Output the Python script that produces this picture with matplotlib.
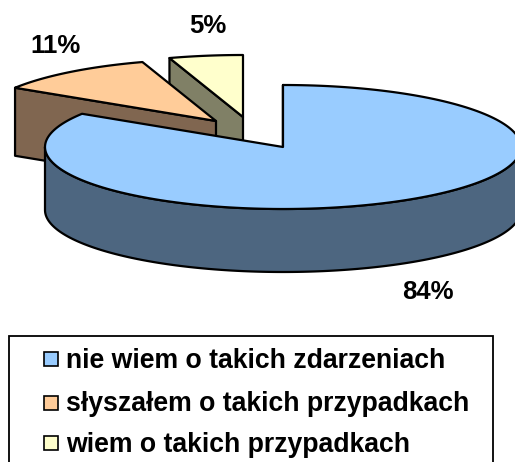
import numpy as np
import matplotlib
matplotlib.use("Agg")
import matplotlib.pyplot as plt
from matplotlib.patches import Polygon, Rectangle

plt.rcParams['font.family'] = ['Liberation Sans', 'DejaVu Sans']

# data
categories = ["nie wiem o takich zdarzeniach", "słyszałem o takich przypadkach", "wiem o takich przypadkach"]
values = [84, 11, 5]
labels = ["84%", "11%", "5%"]

# slice look
top_colors = ["#99CCFF", "#FFCC99", "#FFFFCC"]
side_colors = ["#4D6680", "#806650", "#808066"]
apex_x = [283, 216, 243]
apex_y = [147, 121, 117]
depths = [63, 68, 65]
label_pos = [(428, 299), (55, 53), (208, 33)]
RX, RY = 238, 62
EDGE = 1.6

fig = plt.figure(figsize=(5.15, 4.62), dpi=100)
ax = fig.add_axes([0, 0, 1, 1])
ax.set_xlim(0, 515)
ax.set_ylim(462, 0)
ax.axis("off")


def rim(cx, cy, a0, a1):
    # angles clockwise from 12 o'clock, like the office pie
    t = np.radians(np.linspace(a0, a1, 200))
    return cx + RX * np.sin(t), cy - RY * np.cos(t)


edges = np.cumsum([0] + values) * 3.6
slices = []
for i in range(len(values)):
    slices.append((i, edges[i], edges[i + 1]))

# back slices first so the big one sits in front
for i, a0, a1 in reversed(slices):
    cx, cy, d = apex_x[i], apex_y[i], depths[i]
    xs, ys = rim(cx, cy, a0, a1)

    # cut face on the far end of the slice
    px, py = xs[0], ys[0]
    ax.add_patch(Polygon([(px, py), (cx, cy), (cx, cy + d), (px, py + d)],
                         fc=side_colors[i], ec="black", lw=EDGE, joinstyle="round"))

    # outer wall, only the part turned to the viewer
    lo, hi = max(a0, 90), min(a1, 270)
    if lo < hi:
        wx, wy = rim(cx, cy, lo, hi)
        wall = list(zip(wx, wy)) + list(zip(wx[::-1], wy[::-1] + d))
        ax.add_patch(Polygon(wall, fc=side_colors[i], ec="black", lw=EDGE, joinstyle="round"))

    top = [(cx, cy)] + list(zip(xs, ys))
    ax.add_patch(Polygon(top, fc=top_colors[i], ec="black", lw=EDGE, joinstyle="round"))

for txt, (x, y) in zip(labels, label_pos):
    ax.text(x, y, txt, ha="center", va="baseline", fontsize=18.5, fontweight="bold", color="black")

# legend box, runs off the bottom of the picture
ax.add_patch(Rectangle((9, 336), 484, 140, fc="white", ec="black", lw=1.3))
swatch_y = [359, 403, 443]
baseline_y = [368, 411, 452]
for name, col, sy, by in zip(categories, top_colors, swatch_y, baseline_y):
    ax.add_patch(Rectangle((43.5, sy - 7), 14, 14, fc=col, ec="black", lw=1.2))
    ax.text(66, by, name, ha="left", va="baseline", fontsize=19.2, fontweight="bold", color="black")

fig.savefig("out.png", dpi=100)
